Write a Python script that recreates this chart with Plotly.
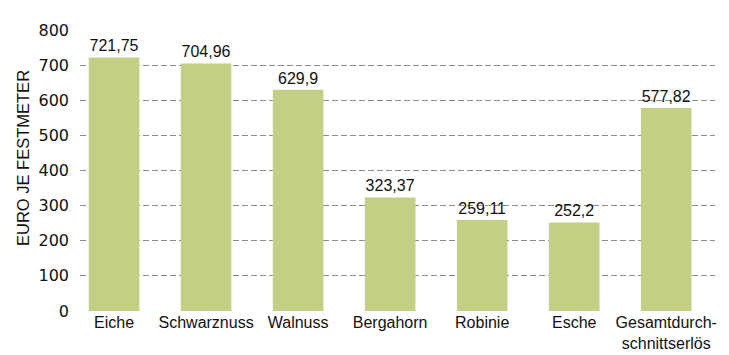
import plotly.graph_objects as go

categories = ["Eiche", "Schwarznuss", "Walnuss", "Bergahorn", "Robinie", "Esche", "Gesamtdurch-<br>schnittserlös"]
values = [721.75, 704.96, 629.9, 323.37, 259.11, 252.2, 577.82]
labels = ["721,75", "704,96", "629,9", "323,37", "259,11", "252,2", "577,82"]
yticks = [0, 100, 200, 300, 400, 500, 600, 700, 800]
y_title = "EURO JE FESTMETER"

narrow = "Liberation Sans Narrow, Arial Narrow, sans-serif"
wide = "DejaVu Sans, sans-serif"

fig = go.Figure(go.Bar(
    x=categories, y=values, text=labels, textposition="outside",
    textfont=dict(size=16, color="#111111", family=narrow),
    marker=dict(color="#c4cf86", line=dict(width=0)),
    width=0.55, cliponaxis=False,
))

fig.update_layout(
    width=729, height=355,
    margin=dict(l=80, r=14, t=30, b=44),
    paper_bgcolor="white", plot_bgcolor="white",
    showlegend=False,
    font=dict(family=narrow, color="#111111"),
    xaxis=dict(range=[-0.37, 6.53], showgrid=False, showline=False, ticks="",
               tickfont=dict(size=16, family=narrow), tickangle=0, automargin=False),
    yaxis=dict(range=[0, 800], tickvals=yticks, showgrid=True, gridcolor="#8c8c8c",
               griddash="6px,3px", gridwidth=1, zeroline=False, showline=False,
               tickfont=dict(size=16, family=wide), ticks="", ticklabelstandoff=10,
               automargin=False),
    annotations=[dict(text=y_title, textangle=-90, xref="paper", yref="paper",
                      x=-0.0898, y=0.5445, xanchor="center", yanchor="middle",
                      showarrow=False, font=dict(size=16.5, family=narrow, color="#111111"))],
    bargap=0.45,
)

fig.write_html("out.html")
